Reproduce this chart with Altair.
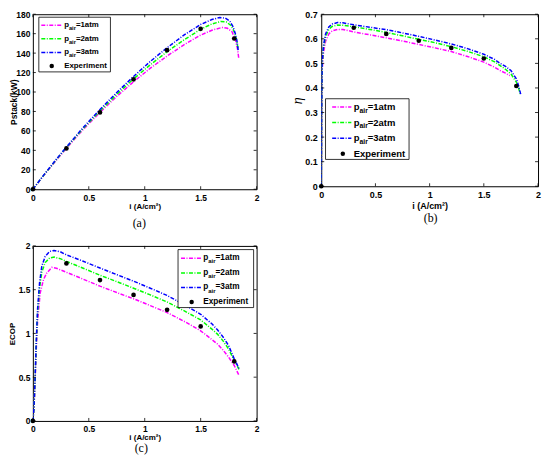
import altair as alt
import pandas as pd

FONT = "Liberation Sans"
SERIF = "Liberation Serif"
SERIES = ["1atm", "2atm", "3atm"]
COLORS = ["#ff00ff", "#00ff00", "#0000ff"]
DASH = [4, 1.5, 1, 1.5]
X_TICKS = [0, 0.5, 1, 1.5, 2]
EXP_I = [0, 0.3, 0.6, 0.9, 1.2, 1.5, 1.8]

# ---- (a) Pstack (kW) ----
A_I_1 = [0, 0.1, 0.2, 0.3, 0.45, 0.6, 0.75, 0.9, 1.05, 1.2, 1.35, 1.5, 1.6, 1.69, 1.74, 1.78, 1.81, 1.83, 1.84]
A_V_1 = [0, 14.5, 28.5, 42, 61.5, 79, 95.5, 110.5, 124.5, 137, 148.5, 158.5, 163.5, 166.4, 165.5, 162, 154, 144, 135]
A_I_2 = [0, 0.1, 0.2, 0.3, 0.45, 0.6, 0.75, 0.9, 1.05, 1.2, 1.35, 1.5, 1.6, 1.68, 1.73, 1.77, 1.8, 1.82, 1.835]
A_V_2 = [0, 14.8, 29, 43, 62.5, 80.5, 97.5, 113.5, 128, 141.5, 153.5, 164.5, 170, 172.5, 172, 168.5, 162, 154, 144]
A_I_3 = [0, 0.1, 0.2, 0.3, 0.45, 0.6, 0.75, 0.9, 1.05, 1.2, 1.35, 1.5, 1.6, 1.67, 1.72, 1.76, 1.79, 1.81, 1.825, 1.835]
A_V_3 = [0, 15, 29.5, 43.5, 63.5, 82, 99.5, 116, 131.5, 145.5, 158.5, 169.5, 174.5, 176.6, 176, 173, 167, 160, 152, 143]
A_EXP = [0, 42, 79, 113, 143, 165, 155]
A_Y_TICKS = [0, 20, 40, 60, 80, 100, 120, 140, 160, 180]

# ---- (b) efficiency eta ----
B_I_1 = [0, 0.003, 0.008, 0.02, 0.04, 0.07, 0.1, 0.15, 0.2, 0.3, 0.45, 0.6, 0.75, 0.9, 1.05, 1.2, 1.35, 1.5, 1.6, 1.65, 1.7, 1.74]
B_V_1 = [0, 0.28, 0.47, 0.54, 0.59, 0.62, 0.632, 0.638, 0.638, 0.628, 0.616, 0.604, 0.591, 0.577, 0.563, 0.548, 0.528, 0.505, 0.484, 0.471, 0.46, 0.45]
B_I_2 = [0, 0.003, 0.008, 0.02, 0.04, 0.07, 0.1, 0.15, 0.2, 0.3, 0.45, 0.6, 0.75, 0.9, 1.05, 1.2, 1.35, 1.5, 1.6, 1.65, 1.7, 1.75, 1.8, 1.82, 1.84]
B_V_2 = [0, 0.29, 0.49, 0.56, 0.61, 0.638, 0.65, 0.656, 0.655, 0.649, 0.638, 0.626, 0.612, 0.598, 0.584, 0.568, 0.549, 0.527, 0.506, 0.491, 0.476, 0.457, 0.424, 0.4, 0.37]
B_I_3 = [0, 0.003, 0.008, 0.02, 0.04, 0.07, 0.1, 0.15, 0.2, 0.3, 0.45, 0.6, 0.75, 0.9, 1.05, 1.2, 1.35, 1.5, 1.6, 1.65, 1.7, 1.75, 1.8, 1.82, 1.84]
B_V_3 = [0, 0.3, 0.5, 0.57, 0.62, 0.648, 0.66, 0.666, 0.665, 0.657, 0.647, 0.637, 0.624, 0.61, 0.595, 0.579, 0.56, 0.537, 0.516, 0.5, 0.488, 0.471, 0.437, 0.41, 0.375]
B_EXP = [0, 0.645, 0.62, 0.592, 0.563, 0.52, 0.408]
B_Y_TICKS = [0, 0.1, 0.2, 0.3, 0.4, 0.5, 0.6, 0.7]

# ---- (c) ECOP ----
C_I_1 = [0, 0.01, 0.02, 0.03, 0.042, 0.065, 0.095, 0.124, 0.17, 0.21, 0.3, 0.45, 0.6, 0.75, 0.9, 1.05, 1.2, 1.35, 1.5, 1.6, 1.65, 1.7, 1.75, 1.8, 1.82, 1.843]
C_V_1 = [0, 0.13, 0.45, 0.8, 1.13, 1.46, 1.615, 1.69, 1.755, 1.745, 1.699, 1.62, 1.54, 1.467, 1.396, 1.318, 1.238, 1.14, 1.03, 0.93, 0.879, 0.81, 0.728, 0.634, 0.58, 0.52]
C_I_2 = [0, 0.01, 0.02, 0.03, 0.042, 0.06, 0.08, 0.11, 0.15, 0.19, 0.25, 0.3, 0.45, 0.6, 0.75, 0.9, 1.05, 1.2, 1.35, 1.5, 1.6, 1.65, 1.7, 1.75, 1.8, 1.82, 1.843]
C_V_2 = [0, 0.14, 0.48, 0.86, 1.22, 1.52, 1.7, 1.81, 1.862, 1.872, 1.852, 1.823, 1.745, 1.665, 1.592, 1.517, 1.44, 1.359, 1.26, 1.155, 1.05, 0.992, 0.915, 0.822, 0.69, 0.645, 0.59]
C_I_3 = [0, 0.01, 0.02, 0.03, 0.042, 0.06, 0.08, 0.11, 0.15, 0.19, 0.25, 0.3, 0.45, 0.6, 0.75, 0.9, 1.05, 1.2, 1.35, 1.5, 1.6, 1.65, 1.7, 1.75, 1.8, 1.82, 1.843]
C_V_3 = [0, 0.15, 0.5, 0.9, 1.28, 1.58, 1.77, 1.88, 1.937, 1.948, 1.93, 1.898, 1.825, 1.747, 1.672, 1.597, 1.517, 1.434, 1.33, 1.219, 1.11, 1.042, 0.96, 0.861, 0.709, 0.66, 0.596]
C_EXP = [0, 1.8, 1.61, 1.44, 1.27, 1.08, 0.68]
C_Y_TICKS = [0, 0.5, 1, 1.5, 2]


def lines_df(pairs):
    rows = []
    for name, xs, ys in pairs:
        for x, y in zip(xs, ys):
            rows.append({"i": x, "val": y, "series": name})
    return pd.DataFrame(rows)


DUMMY = pd.DataFrame({"d": [0]})


def legend_layers(box, rows_y, line_x, dot_x, text_x, fs):
    layers = []
    layers.append(alt.Chart(DUMMY).mark_rect(fill="white", stroke="black", strokeWidth=0.8).encode(
        x=alt.value(box[0]), x2=alt.value(box[1]), y=alt.value(box[2]), y2=alt.value(box[3])))
    fsub = fs * 0.72
    for k, (name, col) in enumerate(zip(SERIES, COLORS)):
        yc = rows_y[k]
        layers.append(alt.Chart(DUMMY).mark_rule(color=col, strokeWidth=1.5, strokeDash=DASH).encode(
            x=alt.value(line_x[0]), x2=alt.value(line_x[1]), y=alt.value(yc)))
        tx = text_x
        layers.append(alt.Chart(DUMMY).mark_text(text="p", align="left", baseline="middle", font=FONT,
                                                 fontWeight="bold", fontSize=fs, color="black").encode(
            x=alt.value(tx), y=alt.value(yc)))
        tx2 = tx + 0.611 * fs
        layers.append(alt.Chart(DUMMY).mark_text(text="air", align="left", baseline="middle", font=FONT,
                                                 fontWeight="bold", fontSize=fsub, color="black").encode(
            x=alt.value(tx2), y=alt.value(yc + 0.38 * fs)))
        tx3 = tx2 + 1.223 * fsub
        layers.append(alt.Chart(DUMMY).mark_text(text="=" + name, align="left", baseline="middle", font=FONT,
                                                 fontWeight="bold", fontSize=fs, color="black").encode(
            x=alt.value(tx3), y=alt.value(yc)))
    layers.append(alt.Chart(DUMMY).mark_circle(color="black", opacity=1, size=20).encode(
        x=alt.value(dot_x), y=alt.value(rows_y[3])))
    layers.append(alt.Chart(DUMMY).mark_text(text="Experiment", align="left", baseline="middle", font=FONT,
                                             fontWeight="bold", fontSize=fs, color="black").encode(
        x=alt.value(text_x), y=alt.value(rows_y[3])))
    return layers


def panel(ldf, exp_vals, ydom, yticks, w, h, ytitle, ytitle_font, ytitle_size, ytitle_style, ytitle_weight,
          ytitle_x, lab_fs, xlab_pad, ylab_pad, xtitle_y, xtitle_fs, legend, caption, cap_x, cap_y):
    xs = alt.Scale(domain=[0, 2], nice=False, zero=False)
    ys = alt.Scale(domain=ydom, nice=False, zero=False)
    xaxis = alt.Axis(values=X_TICKS, format="~f", title="i (A/cm²)", ticks=False, tickSize=0, domain=False,
                     grid=False, labelFont=FONT, labelFontWeight="bold", labelFontSize=lab_fs,
                     labelColor="black", labelPadding=xlab_pad, labelFlush=False, labelOverlap=False,
                     titleFont=FONT, titleFontWeight="bold", titleFontSize=xtitle_fs, titleColor="black",
                     titleX=w / 2, titleY=xtitle_y, titleBaseline="middle")
    yaxis = alt.Axis(values=yticks, format="~f", title=ytitle, ticks=False, tickSize=0, domain=False,
                     grid=False, labelFont=FONT, labelFontWeight="bold", labelFontSize=lab_fs,
                     labelColor="black", labelPadding=ylab_pad, labelFlush=False, labelOverlap=False,
                     titleFont=ytitle_font, titleFontWeight=ytitle_weight, titleFontStyle=ytitle_style,
                     titleFontSize=ytitle_size, titleColor="black", titleX=ytitle_x, titleY=h / 2,
                     titleBaseline="middle", titleAngle=270)
    X = lambda: alt.X("i:Q", scale=xs, axis=xaxis)
    Y = lambda: alt.Y("val:Q", scale=ys, axis=yaxis)
    lines = alt.Chart(ldf).mark_line(strokeWidth=1.5, strokeDash=DASH, clip=True).encode(
        x=X(), y=Y(),
        color=alt.Color("series:N", scale=alt.Scale(domain=SERIES, range=COLORS), legend=None),
    )
    edf = pd.DataFrame({"i": EXP_I, "val": exp_vals})
    pts = alt.Chart(edf).mark_circle(color="black", opacity=1, size=22).encode(x=X(), y=Y())
    xt = pd.DataFrame({"i": X_TICKS})
    yt = pd.DataFrame({"val": yticks})
    tl = 3
    tick_layers = [
        alt.Chart(xt).mark_rule(color="black", strokeWidth=0.8).encode(x=X(), y=alt.value(h), y2=alt.value(h - tl)),
        alt.Chart(xt).mark_rule(color="black", strokeWidth=0.8).encode(x=X(), y=alt.value(0), y2=alt.value(tl)),
        alt.Chart(yt).mark_rule(color="black", strokeWidth=0.8).encode(y=Y(), x=alt.value(0), x2=alt.value(tl)),
        alt.Chart(yt).mark_rule(color="black", strokeWidth=0.8).encode(y=Y(), x=alt.value(w - tl), x2=alt.value(w)),
    ]
    cap = alt.Chart(DUMMY).mark_text(text=caption, align="center", baseline="middle", font=SERIF,
                                     fontSize=12, color="black").encode(x=alt.value(cap_x), y=alt.value(cap_y))
    layers = [lines, pts] + tick_layers + legend_layers(**legend) + [cap]
    return alt.layer(*layers).properties(width=w, height=h)


dfa = lines_df([("1atm", A_I_1, A_V_1), ("2atm", A_I_2, A_V_2), ("3atm", A_I_3, A_V_3)])
dfb = lines_df([("1atm", B_I_1, B_V_1), ("2atm", B_I_2, B_V_2), ("3atm", B_I_3, B_V_3)])
dfc = lines_df([("1atm", C_I_1, C_V_1), ("2atm", C_I_2, C_V_2), ("3atm", C_I_3, C_V_3)])

pa = panel(dfa, A_EXP, [0, 180], A_Y_TICKS, 225, 176, "Pstack(kW)", FONT, 8.5, "normal", "bold", -19,
           8.5, 4.3, 3, 17, 8, dict(box=[6, 78, 3, 58], rows_y=[11, 24.7, 38.4, 52], line_x=[8.5, 30],
                                     dot_x=19, text_x=31.5, fs=7.9), "(a)", 107, 210)
pb = panel(dfb, B_EXP, [0, 0.7], B_Y_TICKS, 218, 173, "η", SERIF, 14, "italic", "normal", -24.3,
           9, 4.8, 4, 19.5, 9, dict(box=[4.3, 88.3, 85, 146], rows_y=[93.3, 109, 124.7, 140.4],
                                    line_x=[11, 30.3], dot_x=21.7, text_x=32.7, fs=9.5), "(b)", 110, 204.5)
pc = panel(dfc, C_EXP, [0, 2], C_Y_TICKS, 225, 176, "ECOP", FONT, 8, "normal", "bold", -20,
           8.5, 3.5, 3, 16.5, 8, dict(box=[146, 222, 3.7, 62], rows_y=[12.5, 27.3, 41.8, 56.3],
                                    line_x=[149, 169.7], dot_x=159.7, text_x=171.3, fs=8.3), "(c)", 109, 176 + 27.5)

chart = alt.concat(pa, pb, pc, columns=2, spacing={"row": 57, "column": 65}, bounds="flush").properties(
    padding={"left": 0, "top": 0, "right": 0, "bottom": 0},
    background="white",
).configure_view(stroke="black", strokeWidth=1)

chart.save("out.html", embed_options={"renderer": "svg", "actions": False})
